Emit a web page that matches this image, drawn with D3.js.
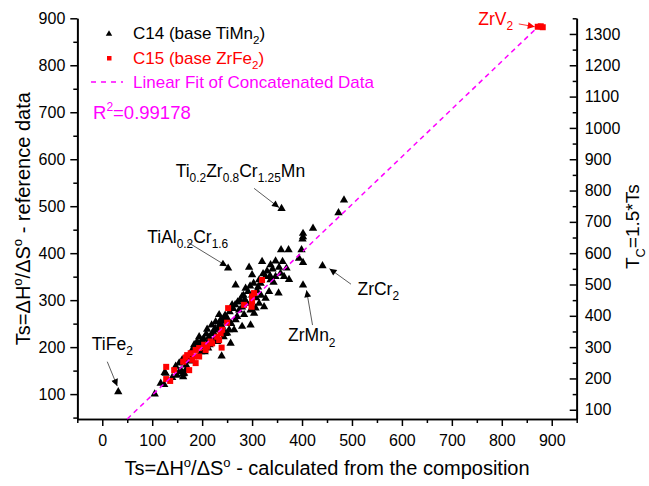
<!DOCTYPE html>
<html>
<head>
<meta charset="utf-8">
<script src="https://cdn.jsdelivr.net/npm/d3@7"></script>
<style>
  body { margin: 0; background: #fff; }
  text { font-family: Arial, "Liberation Sans", sans-serif; }
</style>
</head>
<body>
<div id="chart"></div>
<script>
const width = 649;
const height = 486;

// C14 (base TiMn2): [Ts calculated, Ts reference]
const c14 = [
  [32, 105], [105, 100], [117, 123], [124, 120], [127, 144], [125, 146],
  [147, 159], [154, 166], [154, 148], [160, 173], [164, 144], [167, 151],
  [162, 143], [162, 137], [174, 183], [180, 194], [184, 205], [194, 222],
  [200, 215], [200, 201], [214, 222], [219, 247], [220, 229], [227, 254],
  [227, 222], [230, 212], [234, 269], [237, 258], [239, 181], [240, 244],
  [247, 229], [254, 237], [257, 208], [264, 237], [267, 258], [270, 265],
  [274, 279], [280, 244], [280, 308], [284, 269], [287, 325], [290, 293],
  [297, 279], [297, 247], [300, 311], [300, 354], [304, 272], [307, 283],
  [314, 293], [314, 343], [317, 336], [320, 382], [324, 286], [327, 304],
  [327, 350], [334, 318], [337, 375], [337, 343], [341, 366], [347, 383],
  [347, 350], [353, 315], [354, 370], [357, 357], [361, 382], [364, 350],
  [369, 368], [374, 344], [267, 332], [294, 370], [252, 368], [359, 495],
  [358, 407], [373, 407], [399, 407], [394, 389], [402, 380], [402, 332],
  [401, 430], [402, 435], [402, 442], [422, 453], [441, 373], [473, 486],
  [484, 513], [210, 238], [190, 212], [170, 176], [244, 262], [260, 290],
  [285, 300], [310, 320], [205, 190], [235, 245], [280, 285], [215, 205],
  [190, 200], [196, 208], [203, 218], [208, 228], [212, 210], [222, 232],
  [226, 240], [231, 236], [236, 250], [243, 255], [246, 268], [250, 262],
  [255, 275], [258, 250], [262, 282], [266, 290], [271, 296], [276, 300],
  [283, 310], [288, 296], [292, 318], [296, 330], [303, 336], [308, 305],
  [312, 328], [318, 310], [322, 356], [330, 362], [336, 352], [343, 338],
  [250, 230], [243, 222], [224, 215], [212, 198], [198, 190], [176, 170],
  [168, 162], [158, 150], [150, 140], [140, 135]
];

// C15 (base ZrFe2)
const c15 = [
  [128, 158], [128, 132], [136, 128], [144, 151], [162, 169], [167, 178],
  [170, 183], [174, 151], [177, 187], [180, 173], [184, 180], [187, 194],
  [187, 166], [194, 198], [194, 180], [204, 205], [207, 194], [210, 201],
  [217, 212], [220, 208], [230, 222], [234, 215], [237, 229], [239, 199],
  [240, 237], [250, 252], [252, 283], [284, 290], [299, 286], [300, 297],
  [300, 308], [304, 315], [320, 343],
  [872, 882], [878, 883], [882, 881]
];

// linear fit of concatenated data
const fitSlope = 1.015;
const fitIntercept = -3.7;
const fitRange = [50, 870];

const xTicks = [0, 100, 200, 300, 400, 500, 600, 700, 800, 900];
const yTicks = [100, 200, 300, 400, 500, 600, 700, 800, 900];
const yRightTicks = [100, 200, 300, 400, 500, 600, 700, 800, 900, 1000, 1100, 1200, 1300];

// annotations: text start, arrow start, arrow tip (data units)
const notes = [
  { parts: [['TiFe'], ['2', 'sub']], at: [-21, 194], from: [10, 169], to: [30, 117], color: '#000' },
  { parts: [['TiAl'], ['0.2', 'sub'], ['Cr'], ['1.6', 'sub']], at: [90, 422], from: [170, 424], to: [250, 372], color: '#000' },
  { parts: [['Ti'], ['0.2', 'sub'], ['Zr'], ['0.8', 'sub'], ['Cr'], ['1.25', 'sub'], ['Mn']], at: [147, 563], from: [304, 538], to: [354, 497], color: '#000' },
  { parts: [['ZrCr'], ['2', 'sub']], at: [511, 311], from: [498, 334], to: [455, 367], color: '#000' },
  { parts: [['ZrMn'], ['2', 'sub']], at: [372, 212], from: [421, 247], to: [409, 321], color: '#000' },
  { parts: [['ZrV'], ['2', 'sub']], at: [753, 886], from: [834, 888], to: [866, 882], color: '#ff0000' }
];

const svg = d3.select('#chart')
  .append('svg')
  .attr('width', width)
  .attr('height', height);

const x = d3.scaleLinear().domain([-50, 950]).range([77.3, 576.7]);
const y = d3.scaleLinear().domain([47, 900]).range([419, 18.3]);
const yR = d3.scaleLinear().domain([47 * 1.5, 900 * 1.5]).range([419, 18.3]);

// text with sub / superscripts (shift carried to the next piece)
function richText(sel, parts, size) {
  let back = 0;
  parts.forEach(p => {
    const t = sel.append('tspan').text(p[0]);
    let dy = back;
    back = 0;
    if (p[1] === 'sub') {
      t.attr('font-size', size * 0.68);
      dy += size * 0.3;
      back = -size * 0.3;
    } else if (p[1] === 'sup') {
      t.attr('font-size', size * 0.65);
      dy -= size * 0.42;
      back = size * 0.42;
    }
    if (dy) t.attr('dy', dy);
  });
}

// axes
function styleAxis(g) {
  g.select('.domain').attr('stroke', '#000').attr('stroke-width', 1.7);
  g.selectAll('.tick line').attr('stroke', '#000').attr('stroke-width', 1.5);
  g.selectAll('.tick text').attr('font-size', 16).attr('fill', '#000')
    .style('font-family', 'Arial, "Liberation Sans", sans-serif');
}

const minorX = d3.range(-50, 951, 100);
const minorY = d3.range(50, 901, 100);
const minorYR = d3.range(150, 1351, 100);

svg.append('g')
  .attr('transform', `translate(0,${y.range()[0]})`)
  .call(d3.axisBottom(x).tickValues(minorX).tickFormat('').tickSize(4).tickSizeOuter(0))
  .call(styleAxis);
svg.append('g')
  .attr('transform', `translate(0,${y.range()[0]})`)
  .call(d3.axisBottom(x).tickValues(xTicks).tickFormat(d3.format('d')).tickSize(7).tickSizeOuter(0).tickPadding(9))
  .call(styleAxis);

svg.append('g')
  .attr('transform', `translate(${x.range()[0]},0)`)
  .call(d3.axisLeft(y).tickValues(minorY).tickFormat('').tickSize(4).tickSizeOuter(0))
  .call(styleAxis);
svg.append('g')
  .attr('transform', `translate(${x.range()[0]},0)`)
  .call(d3.axisLeft(y).tickValues(yTicks).tickFormat(d3.format('d')).tickSize(7).tickSizeOuter(0).tickPadding(5))
  .call(styleAxis);

svg.append('g')
  .attr('transform', `translate(${x.range()[1]},0)`)
  .call(d3.axisRight(yR).tickValues(minorYR).tickFormat('').tickSize(-4).tickSizeOuter(0))
  .call(styleAxis);
svg.append('g')
  .attr('transform', `translate(${x.range()[1]},0)`)
  .call(d3.axisRight(yR).tickValues(yRightTicks).tickFormat(d3.format('d')).tickSize(-7).tickSizeOuter(0).tickPadding(8))
  .call(styleAxis);

// axis titles
const xTitle = svg.append('text')
  .attr('x', (x.range()[0] + x.range()[1]) / 2)
  .attr('y', 475)
  .attr('text-anchor', 'middle')
  .attr('font-size', 20);
richText(xTitle, [['Ts=\u0394H'], ['o', 'sup'], ['/\u0394S'], ['o', 'sup'], [' - calculated from the composition']], 20);

const yTitle = svg.append('text')
  .attr('transform', `translate(30,${(y.range()[0] + y.range()[1]) / 2}) rotate(-90)`)
  .attr('text-anchor', 'middle')
  .attr('font-size', 20);
richText(yTitle, [['Ts=\u0394H'], ['o', 'sup'], ['/\u0394S'], ['o', 'sup'], [' - reference data']], 20);

const yRTitle = svg.append('text')
  .attr('transform', `translate(639,${(y.range()[0] + y.range()[1]) / 2 + 8}) rotate(-90)`)
  .attr('text-anchor', 'middle')
  .attr('font-size', 19);
richText(yRTitle, [['T'], ['C', 'sub'], ['=1.5*Ts']], 19);

// points
const tri = d3.symbol().type(d3.symbolTriangle).size(30);
svg.append('g')
  .selectAll('path')
  .data(c14)
  .join('path')
  .attr('transform', d => `translate(${x(d[0])},${y(d[1])})`)
  .attr('d', tri)
  .attr('fill', '#000');

svg.append('g')
  .selectAll('rect')
  .data(c15)
  .join('rect')
  .attr('x', d => x(d[0]) - 3)
  .attr('y', d => y(d[1]) - 3)
  .attr('width', 6)
  .attr('height', 6)
  .attr('fill', '#ff0000');

// fit line
svg.append('line')
  .attr('x1', x(fitRange[0]))
  .attr('y1', y(fitSlope * fitRange[0] + fitIntercept))
  .attr('x2', x(fitRange[1]))
  .attr('y2', y(fitSlope * fitRange[1] + fitIntercept))
  .attr('stroke', '#ff00ff')
  .attr('stroke-width', 1.5)
  .attr('stroke-dasharray', '5,4');

// annotations
const defs = svg.append('defs');
['#000', '#ff0000'].forEach((c, i) => {
  defs.append('marker')
    .attr('id', 'arrow' + i)
    .attr('viewBox', '0 0 10 10')
    .attr('refX', 10).attr('refY', 5)
    .attr('markerWidth', 9).attr('markerHeight', 7)
    .attr('markerUnits', 'userSpaceOnUse')
    .attr('orient', 'auto')
    .append('path')
    .attr('d', 'M0,0 L10,5 L0,10 z')
    .attr('fill', c);
});

notes.forEach(n => {
  svg.append('line')
    .attr('x1', x(n.from[0])).attr('y1', y(n.from[1]))
    .attr('x2', x(n.to[0])).attr('y2', y(n.to[1]))
    .attr('stroke', n.color === '#000' ? '#333' : n.color)
    .attr('stroke-width', 0.8)
    .attr('marker-end', `url(#arrow${n.color === '#000' ? 0 : 1})`);
  const t = svg.append('text')
    .attr('x', x(n.at[0]))
    .attr('y', y(n.at[1]))
    .attr('font-size', 17.5)
    .attr('fill', n.color);
  richText(t, n.parts, 17.5);
});

// legend
const lg = svg.append('g');
lg.append('path')
  .attr('transform', 'translate(109,34)')
  .attr('d', d3.symbol().type(d3.symbolTriangle).size(18))
  .attr('fill', '#000');
const l1 = lg.append('text').attr('x', 133).attr('y', 39).attr('font-size', 17).attr('fill', '#000');
richText(l1, [['C14 (base TiMn'], ['2', 'sub'], [')']], 17);

lg.append('rect').attr('x', 107).attr('y', 56).attr('width', 4.5).attr('height', 4.5).attr('fill', '#ff0000');
const l2 = lg.append('text').attr('x', 133).attr('y', 64).attr('font-size', 17).attr('fill', '#ff0000');
richText(l2, [['C15 (base ZrFe'], ['2', 'sub'], [')']], 17);

lg.append('line')
  .attr('x1', 91).attr('x2', 123).attr('y1', 82).attr('y2', 82)
  .attr('stroke', '#ff00ff').attr('stroke-width', 1.5).attr('stroke-dasharray', '5,5');
lg.append('text').attr('x', 133).attr('y', 88).attr('font-size', 17).attr('fill', '#ff00ff')
  .text('Linear Fit of Concatenated Data');

const r2 = lg.append('text').attr('x', 93).attr('y', 119).attr('font-size', 18.5).attr('fill', '#ff00ff');
richText(r2, [['R'], ['2', 'sup'], ['=0.99178']], 18.5);
</script>
</body>
</html>
